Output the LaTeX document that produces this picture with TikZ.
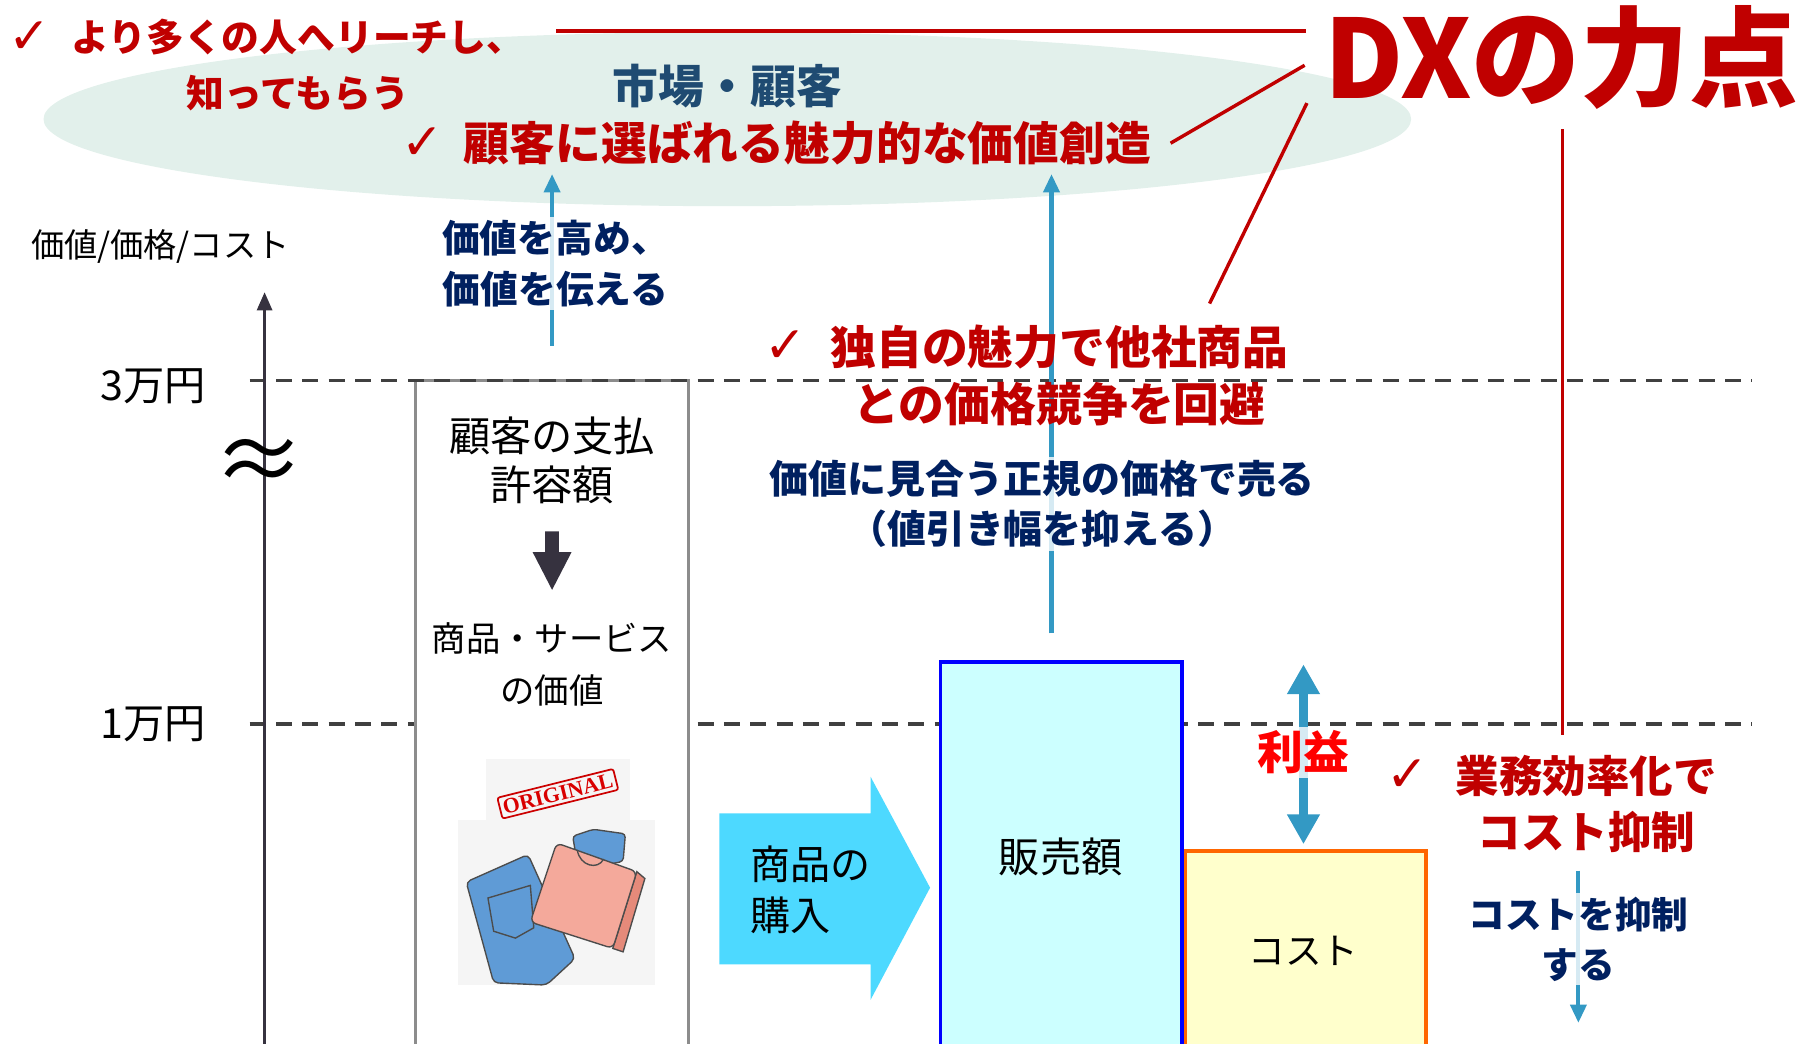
\documentclass[tikz,border=0pt]{standalone}
\usepackage{fontspec}
\setmainfont{Noto Sans CJK JP}
\newfontfamily\checkfont{DejaVu Sans}
\newfontfamily\stampfont{Liberation Serif}
\usetikzlibrary{arrows.meta, positioning, calc}

\definecolor{dxred}{HTML}{C00000}
\definecolor{navy}{HTML}{002060}
\definecolor{marketblue}{HTML}{1F4B72}
\definecolor{arrowblue}{HTML}{3399C4}
\definecolor{axisgray}{HTML}{36323F}
\definecolor{dashgray}{HTML}{404040}
\definecolor{boxgray}{HTML}{8C8C8C}
\definecolor{ellipsefill}{HTML}{E2F0EB}
\definecolor{buycyan}{HTML}{4DD9FF}
\definecolor{salesfill}{HTML}{CCFFFF}
\definecolor{costfill}{HTML}{FFFFCC}
\definecolor{costedge}{HTML}{FF6600}
\definecolor{jeansblue}{HTML}{5F9BD6}
\definecolor{shirtpink}{HTML}{F4A99B}
\definecolor{shirtdark}{HTML}{E58A7A}

\newcommand{\fsize}[2]{\fontsize{#1}{#2}\selectfont}

\tikzset{
    plain/.style={font=\fsize{36}{43}, align=center, inner sep=0pt},
    point/.style={font=\bfseries\fsize{40}{50}, text=dxred, align=center, inner sep=0pt},
    tick/.style={font=\checkfont\fsize{44}{44}, text=dxred, inner sep=0pt},
    howto/.style={font=\bfseries\fsize{33}{44}, text=navy, align=center,
        fill=white, fill opacity=0.8, text opacity=1, inner sep=3pt},
    dxline/.style={draw=dxred, line width=3pt},
    level/.style={dashgray, line width=3pt, dash pattern=on 14pt off 9pt},
    push/.style={arrowblue, line width=3.5pt, -{Triangle[width=14pt,length=16pt]}},
    profitarrow/.style={arrowblue, line width=8pt,
        {Triangle[width=27pt,length=26pt]}-{Triangle[width=27pt,length=26pt]}},
}

\begin{document}
\begin{tikzpicture}[x=1pt, y=-1pt]
    \useasboundingbox (0,0) rectangle (1568,911);

    % market
    \fill[ellipsefill] (635,104) ellipse [x radius=597, y radius=76];

    % price levels and the value column
    \draw[level] (218,632) -- (1530,632);
    \filldraw[draw=boxgray, fill=white, line width=2.5pt] (363,920) -- (363,332) -- (601,332) -- (601,920);
    \draw[level] (218,332) -- (1530,332);

    % axis
    \draw[axisgray, line width=3pt, -{Triangle[width=13pt,length=16pt]}] (231,915) -- (231,255);
    \node[plain, font=\fsize{29}{29}] (axislabel) at (140,215) {価値/価格/コスト};
    \node[plain] (man3) at (134,337) {3万円};
    \node[plain] (man1) at (134,632) {1万円};
    \node[plain, font=\fsize{80}{80}] (gap) at (226,407) {≈};

    % value column
    \node[plain] (allow) at (482,402) {顧客の支払\\許容額};
    \fill[axisgray] (476,464) -- (488,464) -- (488,482) -- (499,482) -- (482,515) -- (465,482) -- (476,482) -- cycle;
    \node[plain, font=\fsize{30}{45}] (worth) at (482,580) {商品・サービス\\の価値};

    % goods
    \begin{scope}[line width=1.2pt]
        \fill[black!4] (424,663) rectangle (550,716);
        \fill[black!4] (400,716) rectangle (572,860);
        \node[draw=red!80!black, line width=1.5pt, rounded corners=2pt, rotate=14,
            text=red!85!black, font=\stampfont\bfseries\fsize{19}{19}, inner sep=3pt] (stamp) at (487,693) {ORIGINAL};
        \filldraw[fill=jeansblue, draw=black!70, rounded corners=3pt] (500,730) -- (518,724) -- (546,728) -- (544,752) -- (505,760) -- cycle;
        \filldraw[fill=jeansblue, draw=black!70, rounded corners=4pt] (407,770) -- (461,746) -- (502,837) -- (477,860) -- (431,858) -- cycle;
        \draw[black!70] (426,784) -- (463,773) -- (466,810) -- (450,819) -- (431,813) -- cycle;
        \filldraw[fill=shirtdark, draw=black!70] (556,761) -- (563,767) -- (544,831) -- (535,828) -- cycle;
        \filldraw[fill=shirtpink, draw=black!70, rounded corners=5pt] (486,736) -- (556,761) -- (535,828) -- (463,805) -- cycle;
        \draw[black!70] (504,742) .. controls (506,756) and (522,760) .. (527,750);
    \end{scope}

    % purchase
    \fill[buycyan] (628,710) -- (760,710) -- (760,678) -- (812,775) -- (760,873) -- (760,842) -- (628,842) -- cycle;
    \node[plain, font=\fsize{35}{45}, align=left, anchor=west] (buy) at (655,777) {商品の\\購入};

    % sales and cost
    \draw[draw=costedge, fill=costfill, line width=3pt] (1035,743) rectangle (1245,920);
    \draw[draw=blue, fill=salesfill, line width=3pt] (821,578) rectangle (1032,920);
    \node[plain] (sales) at (926,748) {販売額};
    \node[plain, font=\fsize{32}{32}] (cost) at (1138,830) {コスト};

    % moves
    \draw[push] (482,302) -- (482,152);
    \draw[push] (918,553) -- (918,152);
    \draw[push] (1378,760) -- (1378,893);
    \draw[profitarrow] (1138,737) -- (1138,580);

    % DX leader lines
    \coordinate (dxa) at (1140,27);
    \coordinate (dxb) at (1139,57);
    \coordinate (dxc) at (1141,90);
    \coordinate (dxd) at (1364,113);
    \coordinate (reachend) at (485,27);
    \coordinate (chooseend) at (1022,125);
    \coordinate (uniqueend) at (1056,265);
    \coordinate (efficiencyend) at (1364,642);
    \draw[dxline] (dxa) -- (reachend);
    \draw[dxline] (dxb) -- (chooseend);
    \draw[dxline] (dxc) -- (uniqueend);
    \draw[dxline] (dxd) -- (efficiencyend);

    % labels
    \node[font=\bfseries\fsize{95}{95}, text=dxred, anchor=east, inner sep=0pt] (dx) at (1570,50) {DXの力点};
    \node[tick] at (26,33) {✓};
    \node[point, font=\bfseries\fsize{33}{49}] (reach) at (260,57) {より多くの人へリーチし、\\知ってもらう};
    \node[font=\bfseries\fsize{40}{40}, text=marketblue, inner sep=0pt] (market) at (635,75) {市場・顧客};
    \node[tick] at (369,125) {✓};
    \node[point] (choose) at (705,125) {顧客に選ばれる魅力的な価値創造};

    \node[howto] (raise) at (485,230) {価値を高め、\\価値を伝える};
    \node[tick] at (686,303) {✓};
    \node[point] (unique) at (925,328) {独自の魅力で他社商品\\との価格競争を回避};
    \node[howto, font=\bfseries\fsize{34}{44}] (fairprice) at (910,440) {価値に見合う正規の価格で売る\\（値引き幅を抑える）};

    \node[howto, font=\bfseries\fsize{40}{40}, text=red] (profit) at (1138,657) {利益};
    \node[tick] at (1229,677) {✓};
    \node[point, font=\bfseries\fsize{38}{49}] (efficiency) at (1385,702) {業務効率化で\\コスト抑制};
    \node[howto, font=\bfseries\fsize{32}{44}] (cutcost) at (1378,820) {コストを抑制\\する};
\end{tikzpicture}
\end{document}
